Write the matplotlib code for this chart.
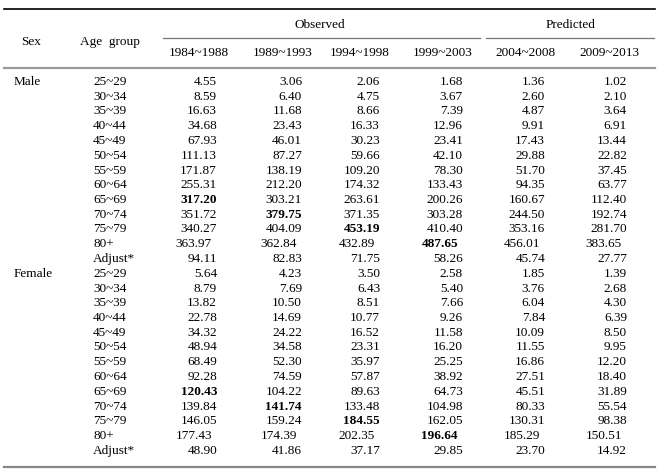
import matplotlib
matplotlib.use("Agg")
import matplotlib.pyplot as plt
from matplotlib.lines import Line2D

plt.rcParams['font.family'] = ['Liberation Serif', 'DejaVu Serif']

periods = ["1984~1988", "1989~1993", "1994~1998", "1999~2003", "2004~2008", "2009~2013"]
age_groups = ["25~29", "30~34", "35~39", "40~44", "45~49", "50~54", "55~59",
              "60~64", "65~69", "70~74", "75~79", "80+", "Adjust*"]

male_1984 = [4.55, 8.59, 16.63, 34.68, 67.93, 111.13, 171.87, 255.31, 317.20, 351.72, 340.27, 363.97, 94.11]
male_1989 = [3.06, 6.40, 11.68, 23.43, 46.01, 87.27, 138.19, 212.20, 303.21, 379.75, 404.09, 362.84, 82.83]
male_1994 = [2.06, 4.75, 8.66, 16.33, 30.23, 59.66, 109.20, 174.32, 263.61, 371.35, 453.19, 432.89, 71.75]
male_1999 = [1.68, 3.67, 7.39, 12.96, 23.41, 42.10, 78.30, 133.43, 200.26, 303.28, 410.40, 487.65, 58.26]
male_2004 = [1.36, 2.60, 4.87, 9.91, 17.43, 29.88, 51.70, 94.35, 160.67, 244.50, 353.16, 456.01, 45.74]
male_2009 = [1.02, 2.10, 3.64, 6.91, 13.44, 22.82, 37.45, 63.77, 112.40, 192.74, 281.70, 383.65, 27.77]

female_1984 = [5.64, 8.79, 13.82, 22.78, 34.32, 48.94, 68.49, 92.28, 120.43, 139.84, 146.05, 177.43, 48.90]
female_1989 = [4.23, 7.69, 10.50, 14.69, 24.22, 34.58, 52.30, 74.59, 104.22, 141.74, 159.24, 174.39, 41.86]
female_1994 = [3.50, 6.43, 8.51, 10.77, 16.52, 23.31, 35.97, 57.87, 89.63, 133.48, 184.55, 202.35, 37.17]
female_1999 = [2.58, 5.40, 7.66, 9.26, 11.58, 16.20, 25.25, 38.92, 64.73, 104.98, 162.05, 196.64, 29.85]
female_2004 = [1.85, 3.76, 6.04, 7.84, 10.09, 11.55, 16.86, 27.51, 45.51, 80.33, 130.31, 185.29, 23.70]
female_2009 = [1.39, 2.68, 4.30, 6.39, 8.50, 9.95, 12.20, 18.40, 31.89, 55.54, 98.38, 150.51, 14.92]

# (row index in age_groups, column index) of the bold peak values
bold_cells = [(8, 0), (9, 1), (10, 2), (11, 3)]

male = [male_1984, male_1989, male_1994, male_1999, male_2004, male_2009]
female = [female_1984, female_1989, female_1994, female_1999, female_2004, female_2009]

W, H = 660, 475
fig = plt.figure(figsize=(6.6, 4.75), dpi=100)
fs = 9.5


def fx(x):
    return x / W


def fy(y):
    return 1 - y / H


def txt(x, y, s, ha="left", bold=False):
    fig.text(fx(x), fy(y), s, ha=ha, va="center", fontsize=fs,
             fontweight="bold" if bold else "normal", color="black")


def hline(x0, x1, y, color, lw):
    fig.add_artist(Line2D([fx(x0), fx(x1)], [fy(y), fy(y)], color=color, lw=lw))


# rules
hline(4, 655, 9, "black", 1.2)
hline(163, 480, 38, "#777777", 0.9)
hline(486, 654, 38, "#777777", 0.9)
hline(4, 655, 68, "#999999", 1.6)
hline(4, 655, 467, "#888888", 1.6)

# header
txt(31, 42, "Sex", ha="center")
txt(110, 42, "Age  group", ha="center")
txt(320, 25, "Observed", ha="center")
txt(571, 25, "Predicted", ha="center")
head_x = [199, 283, 360, 443, 525, 609]
for x, p in zip(head_x, periods):
    txt(x, 53, p, ha="center")

# body
col_right = [217, 302, 380, 463, 545, 627]
row0, dy = 82, 14.75
for g, (sex, data) in enumerate([("Male", male), ("Female", female)]):
    base = g * len(age_groups)
    txt(14, row0 + base * dy, sex)
    for i, ag in enumerate(age_groups):
        y = row0 + (base + i) * dy
        txt(93, y, ag)
        shift = -5 if ag == "80+" else 0
        for j, col in enumerate(data):
            txt(col_right[j] + shift, y, f"{col[i]:.2f}", ha="right",
                bold=(i, j) in bold_cells)

fig.savefig("out.png", dpi=100)
